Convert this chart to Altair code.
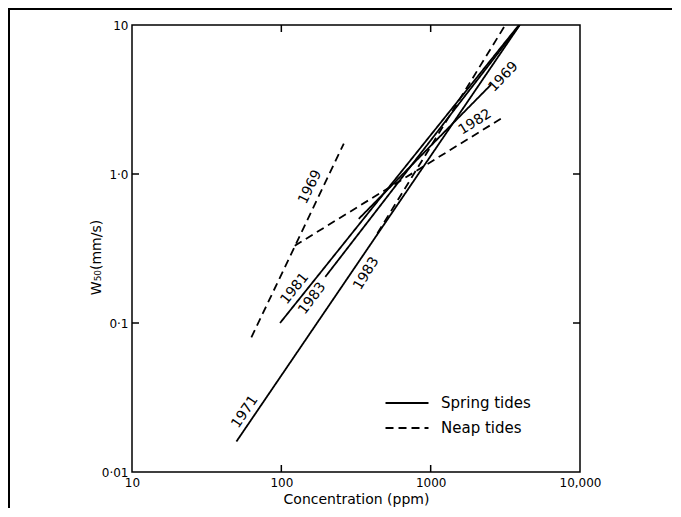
import altair as alt
import pandas as pd

# ---- data (log-log straight lines: two end points each) ----
spring_years = ["1971", "1981", "1983", "1969"]
spring_x0 = [50, 98, 197, 330]
spring_x1 = [3950, 3900, 3950, 2550]
spring_y0 = [0.016, 0.10, 0.204, 0.50]
spring_y1 = [10, 10, 10, 4.0]

neap_years = ["1969", "1982", "1983"]
neap_x0 = [63, 123, 440]
neap_x1 = [262, 3060, 3160]
neap_y0 = [0.08, 0.33, 0.40]
neap_y1 = [1.6, 2.4, 10]

label_text = ["1971", "1981", "1983", "1983", "1969", "1969", "1982"]
label_x = [57, 123, 161, 371, 156, 3070, 1982]
label_y = [0.0253, 0.170, 0.146, 0.215, 0.818, 4.48, 2.23]
label_angle = [304, 309, 307, 301, 296, 314, 328]

x_ticks = [10, 100, 1000, 10000]
x_tick_labels = ["10", "100", "1000", "10,000"]
y_ticks = [0.01, 0.1, 1, 10]
y_tick_labels = ["0·01", "0·1", "1·0", "10"]
inner_x_ticks = [100, 1000]
inner_y_ticks = [0.1, 1]

tide_names = ["Spring tides", "Neap tides"]

# ---- tables ----
rows = []
for yr, a, b, c, d in zip(spring_years, spring_x0, spring_x1, spring_y0, spring_y1):
    rows.append({"id": "S" + yr, "tide": tide_names[0], "x": a, "y": c})
    rows.append({"id": "S" + yr, "tide": tide_names[0], "x": b, "y": d})
for yr, a, b, c, d in zip(neap_years, neap_x0, neap_x1, neap_y0, neap_y1):
    rows.append({"id": "N" + yr, "tide": tide_names[1], "x": a, "y": c})
    rows.append({"id": "N" + yr, "tide": tide_names[1], "x": b, "y": d})
lines_df = pd.DataFrame(rows)

labels_df = pd.DataFrame({"t": label_text, "x": label_x, "y": label_y, "a": label_angle})
xt_df = pd.DataFrame({"x": inner_x_ticks})
yt_df = pd.DataFrame({"y": inner_y_ticks})


def expr(vals, labs):
    parts = [f"abs(datum.value - {v}) < {v} * 1e-6 ? '{l}'" for v, l in zip(vals, labs)]
    return " : ".join(parts) + " : ''"


FONT = "DejaVu Sans"
W, H = 448, 447
XT = "Concentration (ppm)"
YT = "W₅₀(mm/s)"

xscale = alt.Scale(type="log", domain=[10, 10000], nice=False)
yscale = alt.Scale(type="log", domain=[0.01, 10], nice=False)

x_axis = alt.Axis(values=x_ticks, labelExpr=expr(x_ticks, x_tick_labels), ticks=False,
                  grid=False, domain=False, labelFont=FONT, labelFontSize=12,
                  labelColor="black", labelPadding=5, labelFlush=False,
                  titleFont=FONT, titleFontSize=14, titleFontWeight="normal",
                  titleColor="black", titleY=27, titleBaseline="middle")
y_axis = alt.Axis(values=y_ticks, labelExpr=expr(y_ticks, y_tick_labels), ticks=False,
                  grid=False, domain=False, labelFont=FONT, labelFontSize=12,
                  labelColor="black", labelPadding=4, labelFlush=False,
                  titleFont=FONT, titleFontSize=14, titleFontWeight="normal",
                  titleColor="black", titleX=-36, titleY=232, titleAngle=270,
                  titleAlign="center", titleBaseline="middle")

lines = alt.Chart(lines_df).mark_line(color="black", strokeWidth=1.8, clip=True).encode(
    x=alt.X("x:Q", scale=xscale, axis=x_axis, title=XT),
    y=alt.Y("y:Q", scale=yscale, axis=y_axis, title=YT),
    detail="id:N",
    strokeDash=alt.StrokeDash(
        "tide:N",
        scale=alt.Scale(domain=tide_names, range=[[1, 0], [8, 5]]),
        legend=alt.Legend(title=None, orient="none", legendX=263, legendY=366,
                          symbolType="M-2,0H2", symbolSize=462, symbolStrokeWidth=2,
                          symbolStrokeColor="black", symbolFillColor="transparent",
                          labelFont=FONT, labelFontSize=15,
                          labelColor="black", labelOffset=22, rowPadding=5),
    ),
)

texts = alt.Chart(labels_df).mark_text(font=FONT, fontSize=14, color="black",
                                       align="center", baseline="middle").encode(
    x=alt.X("x:Q", scale=xscale, title=XT),
    y=alt.Y("y:Q", scale=yscale, title=YT),
    text="t:N",
    angle=alt.Angle("a:Q", scale=None),
)

bt = alt.Chart(xt_df).mark_rule(color="black", strokeWidth=1.5).encode(
    x=alt.X("x:Q", scale=xscale, title=XT), y=alt.value(H), y2=alt.value(H - 7))
tt = alt.Chart(xt_df).mark_rule(color="black", strokeWidth=1.5).encode(
    x=alt.X("x:Q", scale=xscale, title=XT), y=alt.value(0), y2=alt.value(7))
lt = alt.Chart(yt_df).mark_rule(color="black", strokeWidth=1.5).encode(
    y=alt.Y("y:Q", scale=yscale, title=YT), x=alt.value(0), x2=alt.value(7))
rt = alt.Chart(yt_df).mark_rule(color="black", strokeWidth=1.5).encode(
    y=alt.Y("y:Q", scale=yscale, title=YT), x=alt.value(W), x2=alt.value(W - 7))

frame = alt.Chart(pd.DataFrame({"k": [0]})).mark_rect(
    filled=False, stroke="black", strokeWidth=2).encode(
    x=alt.value(-123), x2=alt.value(700), y=alt.value(-16), y2=alt.value(700))

chart = alt.layer(lines, texts, bt, tt, lt, rt, frame).properties(
    width=W, height=H, autosize="none",
    padding={"left": 124, "top": 17, "right": 92, "bottom": 36},
    background="white",
).configure_view(stroke="black", strokeWidth=1.5)

chart.save("out.html", embed_options={"renderer": "svg", "actions": False})
